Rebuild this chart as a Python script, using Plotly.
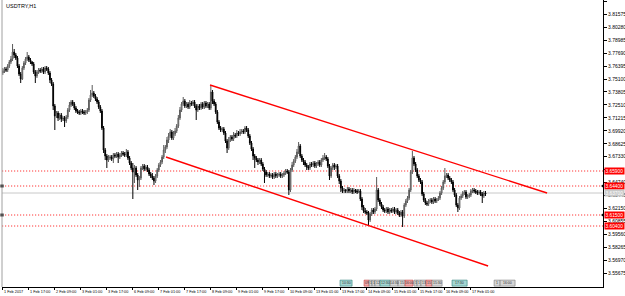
import plotly.graph_objects as go

symbol_title = "USDTRY,H1"

closes = [
3.759,3.761,3.760,3.764,3.768,3.771,3.778,3.775,3.772,3.764,
3.756,3.751,3.762,3.767,3.771,3.773,3.770,3.768,3.766,3.758,
3.754,3.758,3.760,3.759,3.761,3.758,3.762,3.761,3.757,3.750,
3.746,3.724,3.714,3.717,3.712,3.715,3.711,3.712,3.709,3.713,
3.720,3.725,3.728,3.726,3.722,3.719,3.718,3.717,3.719,3.718,
3.717,3.718,3.720,3.730,3.735,3.737,3.734,3.731,3.728,3.723,
3.719,3.702,3.680,3.674,3.670,3.672,3.673,3.671,3.675,3.674,
3.676,3.673,3.675,3.677,3.676,3.675,3.678,3.672,3.667,3.662,
3.658,3.662,3.655,3.650,3.652,3.662,3.664,3.661,3.663,3.660,
3.656,3.654,3.652,3.649,3.654,3.660,3.665,3.668,3.673,3.680,
3.683,3.690,3.694,3.698,3.692,3.696,3.699,3.704,3.712,3.720,
3.726,3.729,3.724,3.726,3.723,3.727,3.726,3.728,3.724,3.720,
3.724,3.722,3.726,3.723,3.727,3.724,3.726,3.722,3.738,3.729,
3.726,3.718,3.708,3.702,3.700,3.701,3.697,3.689,3.682,3.690,
3.693,3.691,3.695,3.694,3.697,3.696,3.698,3.699,3.698,3.702,
3.700,3.694,3.687,3.681,3.674,3.672,3.670,3.668,3.670,3.666,
3.661,3.658,3.655,3.656,3.654,3.655,3.653,3.656,3.654,3.655,
3.656,3.654,3.655,3.657,3.659,3.658,3.640,3.660,3.665,3.669,
3.673,3.678,3.684,3.674,3.670,3.668,3.665,3.663,3.662,3.666,
3.665,3.667,3.664,3.666,3.668,3.665,3.670,3.672,3.673,3.671,
3.664,3.654,3.662,3.665,3.663,3.664,3.654,3.649,3.642,3.639,
3.640,3.639,3.641,3.639,3.640,3.638,3.640,3.639,3.638,3.639,
3.631,3.623,3.619,3.618,3.617,3.610,3.616,3.620,3.618,3.621,
3.640,3.630,3.626,3.623,3.620,3.619,3.621,3.618,3.620,3.619,
3.621,3.618,3.620,3.617,3.615,3.618,3.614,3.625,3.629,3.632,
3.640,3.658,3.672,3.666,3.660,3.654,3.650,3.648,3.636,3.630,
3.627,3.626,3.629,3.630,3.628,3.631,3.629,3.630,3.632,3.637,
3.642,3.648,3.654,3.655,3.652,3.650,3.648,3.640,3.635,3.625,
3.622,3.632,3.634,3.637,3.638,3.633,3.634,3.635,3.639,3.640,
3.639,3.638,3.637,3.638,3.636,3.634,3.637,3.636]

highs = [
3.762,3.763,3.763,3.766,3.770,3.774,3.786,3.781,3.777,3.774,
3.766,3.758,3.764,3.769,3.773,3.778,3.775,3.772,3.769,3.768,
3.760,3.760,3.762,3.762,3.763,3.763,3.764,3.764,3.763,3.759,
3.752,3.748,3.726,3.719,3.719,3.717,3.717,3.714,3.714,3.715,
3.722,3.728,3.730,3.730,3.728,3.724,3.721,3.720,3.721,3.721,
3.720,3.720,3.722,3.732,3.740,3.745,3.739,3.736,3.733,3.730,
3.725,3.721,3.704,3.682,3.676,3.675,3.675,3.675,3.677,3.677,
3.678,3.678,3.677,3.679,3.679,3.678,3.681,3.680,3.674,3.669,
3.667,3.665,3.664,3.657,3.654,3.664,3.666,3.666,3.665,3.665,
3.662,3.658,3.657,3.654,3.656,3.662,3.667,3.670,3.675,3.685,
3.685,3.693,3.697,3.701,3.700,3.699,3.702,3.706,3.715,3.723,
3.728,3.733,3.731,3.728,3.728,3.730,3.729,3.730,3.730,3.726,
3.726,3.726,3.728,3.728,3.729,3.729,3.728,3.728,3.745,3.740,
3.731,3.728,3.720,3.710,3.704,3.703,3.703,3.699,3.691,3.693,
3.695,3.695,3.698,3.697,3.700,3.699,3.701,3.701,3.701,3.704,
3.704,3.702,3.696,3.689,3.683,3.676,3.674,3.672,3.672,3.672,
3.668,3.663,3.660,3.658,3.658,3.657,3.657,3.658,3.658,3.657,
3.658,3.658,3.657,3.659,3.661,3.661,3.660,3.662,3.668,3.671,
3.675,3.681,3.688,3.686,3.676,3.672,3.670,3.667,3.665,3.668,
3.668,3.669,3.669,3.668,3.670,3.670,3.672,3.675,3.677,3.675,
3.673,3.666,3.664,3.667,3.667,3.666,3.666,3.656,3.651,3.644,
3.642,3.641,3.643,3.643,3.642,3.642,3.642,3.641,3.641,3.641,
3.641,3.633,3.625,3.622,3.620,3.619,3.618,3.622,3.622,3.623,
3.653,3.642,3.632,3.628,3.625,3.622,3.623,3.623,3.622,3.622,
3.623,3.623,3.622,3.622,3.619,3.620,3.620,3.627,3.631,3.634,
3.642,3.660,3.679,3.674,3.668,3.662,3.656,3.652,3.650,3.638,
3.632,3.629,3.631,3.632,3.632,3.633,3.633,3.632,3.634,3.639,
3.644,3.650,3.662,3.657,3.657,3.654,3.652,3.650,3.642,3.637,
3.627,3.634,3.636,3.639,3.640,3.640,3.636,3.637,3.641,3.642,
3.642,3.641,3.640,3.640,3.640,3.638,3.639,3.639]

lows = [
3.755,3.757,3.758,3.758,3.762,3.766,3.769,3.772,3.770,3.762,
3.754,3.747,3.750,3.760,3.765,3.769,3.768,3.766,3.764,3.756,
3.747,3.752,3.756,3.757,3.757,3.756,3.756,3.759,3.755,3.747,
3.744,3.720,3.700,3.712,3.709,3.710,3.708,3.709,3.703,3.707,
3.711,3.718,3.723,3.724,3.720,3.717,3.716,3.715,3.715,3.716,
3.715,3.715,3.716,3.718,3.728,3.733,3.732,3.729,3.726,3.721,
3.717,3.700,3.677,3.670,3.662,3.668,3.670,3.669,3.667,3.672,
3.672,3.667,3.671,3.673,3.674,3.673,3.673,3.670,3.665,3.660,
3.631,3.647,3.653,3.640,3.643,3.650,3.660,3.659,3.659,3.658,
3.654,3.652,3.650,3.645,3.647,3.652,3.658,3.663,3.666,3.671,
3.677,3.681,3.687,3.692,3.690,3.690,3.694,3.697,3.702,3.710,
3.718,3.724,3.722,3.722,3.721,3.721,3.724,3.724,3.722,3.710,
3.718,3.720,3.720,3.721,3.721,3.722,3.722,3.720,3.720,3.726,
3.724,3.716,3.706,3.700,3.698,3.698,3.695,3.687,3.677,3.680,
3.688,3.689,3.689,3.692,3.692,3.694,3.694,3.696,3.696,3.696,
3.698,3.692,3.685,3.679,3.670,3.662,3.668,3.665,3.666,3.664,
3.659,3.647,3.653,3.653,3.652,3.652,3.651,3.651,3.652,3.652,
3.653,3.652,3.652,3.653,3.655,3.656,3.635,3.638,3.658,3.663,
3.667,3.671,3.676,3.672,3.668,3.665,3.663,3.660,3.660,3.660,
3.663,3.663,3.662,3.662,3.664,3.663,3.663,3.668,3.670,3.669,
3.662,3.650,3.652,3.660,3.660,3.661,3.652,3.646,3.638,3.637,
3.637,3.637,3.637,3.637,3.637,3.636,3.636,3.637,3.636,3.637,
3.629,3.620,3.617,3.616,3.615,3.605,3.608,3.614,3.616,3.616,
3.619,3.628,3.624,3.621,3.618,3.617,3.617,3.616,3.616,3.617,
3.617,3.616,3.616,3.615,3.613,3.613,3.603,3.612,3.623,3.627,
3.630,3.638,3.656,3.664,3.658,3.652,3.648,3.646,3.634,3.628,
3.625,3.624,3.624,3.627,3.626,3.626,3.627,3.627,3.629,3.630,
3.635,3.640,3.646,3.652,3.650,3.648,3.646,3.638,3.633,3.623,
3.618,3.620,3.630,3.632,3.635,3.631,3.631,3.632,3.633,3.637,
3.637,3.636,3.635,3.635,3.634,3.627,3.632,3.634]

first_open = 3.757
opens = [first_open] + closes[:-1]
bar_index = list(range(len(closes)))

# time axis labels (every 16 hourly bars)
time_tick_bars = [0, 16, 32, 48, 64, 80, 96, 112, 128, 144, 160, 176, 192, 208, 224, 240, 256, 272, 288]
time_tick_labels = ["1 Feb 2017", "1 Feb 17:00", "2 Feb 09:00", "3 Feb 01:00", "3 Feb 17:00",
                    "6 Feb 09:00", "7 Feb 01:00", "7 Feb 17:00", "8 Feb 09:00", "9 Feb 01:00",
                    "9 Feb 17:00", "10 Feb 09:00", "13 Feb 01:00", "13 Feb 17:00", "14 Feb 09:00",
                    "15 Feb 01:00", "15 Feb 17:00", "16 Feb 09:00", "17 Feb 01:00"]

price_ticks = [3.82870, 3.81575, 3.80280, 3.78985, 3.77690, 3.76395, 3.75100, 3.73805,
               3.72510, 3.71215, 3.69920, 3.68625, 3.67330, 3.66035, 3.64740, 3.63445,
               3.62150, 3.60855, 3.59560, 3.58265, 3.56970, 3.55675]
# tick label hidden under a level label in the reference
hidden_tick_labels = [3.66035]

# horizontal levels
level_prices = [3.65900, 3.64400, 3.61500, 3.60400]
marked_levels = [3.64400, 3.61500]
bid_price = 3.63700

# channel lines (bar index, price)
upper_x = [127.5, 334.9]
upper_y = [3.745, 3.637]
lower_x = [100.4, 298.6]
lower_y = [3.673, 3.564]

# calendar events (bar index start/end, text, kind)
event_start = [207.5, 222.3, 225.4, 227.2, 229.0, 232.1, 238.3, 243.2, 247.5, 253.0, 254.9, 257.3, 260.4, 264.1, 276.4, 302.3, 306.0]
event_end   = [214.9, 225.4, 227.2, 229.0, 232.1, 238.3, 243.2, 247.5, 252.4, 254.9, 257.3, 260.4, 264.1, 270.3, 285.7, 306.0, 315.2]
event_text  = ["10:30", "09", "1", "1", "12", "12:30", "14:30", "15", "16:00", "1", "1", "13", "15", "15:30", "17:30", "1", "16:00"]
event_kind  = ["med", "high", "low", "low", "low", "med", "low", "low", "high", "low", "low", "low", "high", "low", "med", "low", "low"]

x_range = [-0.5, 369.3]
y_range = [3.543, 3.830]

kind_fill = {"med": "#a3d6d2", "high": "#f2a8a8", "low": "#d6d6d6"}
kind_line = {"med": "#2f7f7a", "high": "#c03c3c", "low": "#7a7a7a"}

FONT = "Liberation Sans"

fig = go.Figure()

fig.add_trace(go.Candlestick(
    x=bar_index, open=opens, high=highs, low=lows, close=closes,
    increasing=dict(line=dict(color="#5a5a5a", width=1), fillcolor="#ffffff"),
    decreasing=dict(line=dict(color="#000000", width=1), fillcolor="#000000"),
    whiskerwidth=0, hoverinfo="skip", showlegend=False))

fig.add_trace(go.Scatter(x=upper_x, y=upper_y, mode="lines",
                         line=dict(color="#ff0000", width=1.4), hoverinfo="skip", showlegend=False))
fig.add_trace(go.Scatter(x=lower_x, y=lower_y, mode="lines",
                         line=dict(color="#ff0000", width=1.4), hoverinfo="skip", showlegend=False))

# small markers on left edge and right axis
fig.add_trace(go.Scatter(x=[x_range[0]] * len(marked_levels), y=marked_levels, mode="markers",
                         marker=dict(symbol="square", size=3, color="#000000"),
                         cliponaxis=False, hoverinfo="skip", showlegend=False))
fig.add_trace(go.Scatter(x=[x_range[1]] * len(marked_levels), y=marked_levels, mode="markers",
                         marker=dict(symbol="triangle-left", size=4, color="#000000"),
                         cliponaxis=False, hoverinfo="skip", showlegend=False))

shapes = []
for lv in level_prices:
    shapes.append(dict(type="line", xref="paper", x0=0, x1=1, yref="y", y0=lv, y1=lv,
                       line=dict(color="#ff2020", width=0.9, dash="1.2px,1.8px"), layer="below"))
shapes.append(dict(type="line", xref="paper", x0=0, x1=1, yref="y", y0=bid_price, y1=bid_price,
                   line=dict(color="#c8c8c8", width=1), layer="below"))
# left border
shapes.append(dict(type="line", xref="paper", x0=0, x1=0, yref="paper", y0=0, y1=1,
                   line=dict(color="#a0a0a0", width=1)))
for s, e, k in zip(event_start, event_end, event_kind):
    shapes.append(dict(type="rect", xref="x", x0=s, x1=e, yref="paper", y0=0.003, y1=0.024,
                       fillcolor=kind_fill[k], line=dict(color=kind_line[k], width=0.6)))

annotations = []
annotations.append(dict(text=symbol_title, xref="paper", yref="paper", x=0, y=1,
                        xanchor="left", yanchor="top", xshift=2, yshift=-1, showarrow=False,
                        font=dict(family=FONT, size=5.5, color="#000000")))
for lv in level_prices:
    annotations.append(dict(text=f"{lv:.5f}", xref="paper", yref="y", x=1, y=lv, xanchor="left",
                            yanchor="middle", xshift=1, showarrow=False, bgcolor="#ff0000",
                            borderpad=0.5, font=dict(family=FONT, size=4.8, color="#ffffff")))
annotations.append(dict(text=f"{bid_price:.5f}", xref="paper", yref="y", x=1, y=bid_price, xanchor="left",
                        yanchor="middle", xshift=1, showarrow=False, bgcolor="#c8c8c8",
                        borderpad=0.5, font=dict(family=FONT, size=4.8, color="#ffffff")))
for s, e, t in zip(event_start, event_end, event_text):
    annotations.append(dict(text=t, xref="x", yref="paper", x=(s + e) / 2, y=0.0135,
                            xanchor="center", yanchor="middle", showarrow=False,
                            font=dict(family=FONT, size=3.5, color="#333333")))
# time labels, left-aligned to the right of their tick marks
for b, t in zip(time_tick_bars, time_tick_labels):
    annotations.append(dict(text=t, xref="x", yref="paper", x=b, y=0, xanchor="left",
                            yanchor="top", xshift=0, yshift=-1.5, showarrow=False, borderpad=0,
                            font=dict(family=FONT, size=3.8, color="#000000")))

price_tick_text = ["" if v in hidden_tick_labels else f"{v:.5f}" for v in price_ticks]

fig.update_layout(
    width=625, height=296,
    margin=dict(l=2, r=22, t=0, b=9, autoexpand=False),
    paper_bgcolor="#ffffff", plot_bgcolor="#ffffff",
    showlegend=False,
    shapes=shapes, annotations=annotations,
    xaxis=dict(range=x_range, rangeslider=dict(visible=False), showgrid=False, zeroline=False,
               showline=True, linecolor="#000000", linewidth=1,
               tickmode="array", tickvals=time_tick_bars, showticklabels=False,
               ticks="outside", ticklen=2, tickcolor="#000000", tickwidth=1),
    yaxis=dict(range=y_range, side="right", showgrid=False, zeroline=False,
               showline=True, linecolor="#000000", linewidth=1,
               tickmode="array", tickvals=price_ticks, ticktext=price_tick_text,
               ticks="outside", ticklen=3, tickcolor="#000000", tickwidth=1,
               tickfont=dict(family=FONT, size=5, color="#000000")),
)

fig.write_html("out.html", config={"displayModeBar": False, "staticPlot": True})
